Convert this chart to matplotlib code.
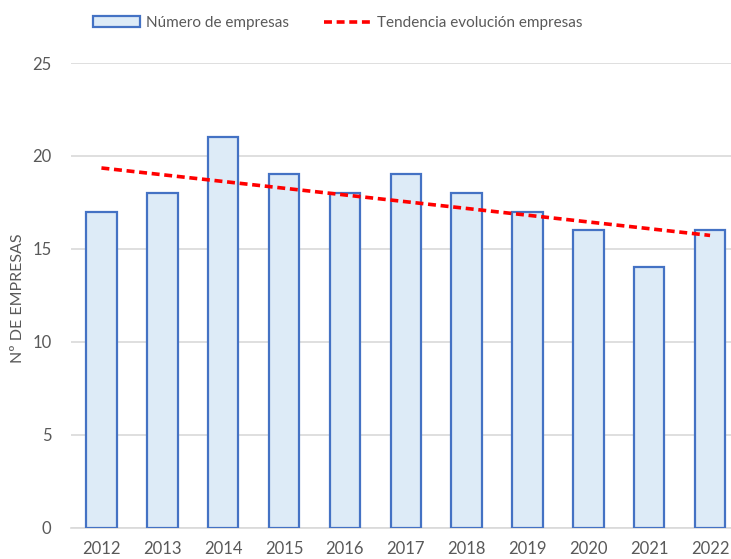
import matplotlib
matplotlib.use("Agg")
import matplotlib.pyplot as plt
from matplotlib.patches import Patch
from matplotlib.lines import Line2D

years = ["2012", "2013", "2014", "2015", "2016", "2017", "2018", "2019", "2020", "2021", "2022"]
empresas = [17, 18, 21, 19, 18, 19, 18, 17, 16, 14, 16]
trend_ends = [19.35, 15.72]  # tendencia read at 2012 and 2022

W, H = 731, 559
fig = plt.figure(figsize=(W / 100, H / 100), dpi=100)
plt.rcParams['font.family'] = ['Lato', 'DejaVu Sans']

left, right, bottom, top = 71, 731, 527.5, 63
ax = fig.add_axes([left / W, (H - bottom) / H, (right - left) / W, (bottom - top) / H])

x = list(range(len(years)))
ax.bar(x, empresas, width=0.5, color="#DDEBF7", edgecolor="#4472C4", linewidth=1.6, zorder=3)
ax.plot([x[0], x[-1]], trend_ends, color="#FF0000", linestyle=(0, (2.2, 1.3)), linewidth=2.6, zorder=4)

ax.set_xlim(-0.5, 10.5 - 9.5 / 60.9)
ax.set_ylim(0, 25)
ax.set_yticks([0, 5, 10, 15, 20, 25])
ax.set_xticks(x)
ax.set_xticklabels(years)
ax.grid(axis="y", color="#D9D9D9", linewidth=1.2, zorder=0)
for s in ["top", "right", "left"]:
    ax.spines[s].set_visible(False)
ax.spines["bottom"].set_color("#D9D9D9")
ax.spines["bottom"].set_linewidth(1.2)
ax.tick_params(axis="both", length=0, labelsize=12, colors="#595959")
ax.tick_params(axis="x", pad=10)
ax.tick_params(axis="y", pad=14)

fig.text(18 / W, (H - 298) / H, "Nº DE EMPRESAS", rotation=90, ha="center", va="center",
         fontsize=11.5, color="#595959")

handles = [Patch(facecolor="#DDEBF7", edgecolor="#4472C4", linewidth=1.6),
           Line2D([0], [0], color="#FF0000", linestyle=(0, (2.2, 1.3)), linewidth=2.6)]
labels = ["Número de empresas", "Tendencia evolución empresas"]
fig.legend(handles, labels, loc="center", bbox_to_anchor=(337.5 / W, (H - 23) / H), ncol=2,
           frameon=False, fontsize=11, labelcolor="#595959", handlelength=3.07, handleheight=0.75,
           columnspacing=2.3, handletextpad=0.4)

fig.savefig("out.png", dpi=100)
